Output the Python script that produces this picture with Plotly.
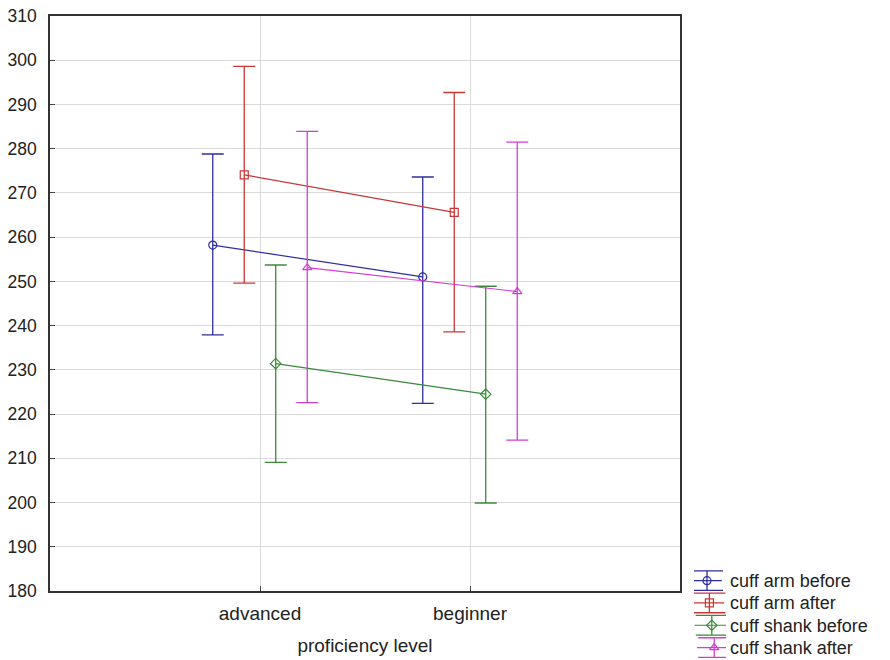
import plotly.graph_objects as go

categories = ["advanced", "beginner"]
series_names = ["cuff arm before", "cuff arm after", "cuff shank before", "cuff shank after"]

arm_before_mean = [258.2, 251.0]
arm_before_upper = [278.8, 273.6]
arm_before_lower = [237.9, 222.4]

arm_after_mean = [274.1, 265.6]
arm_after_upper = [298.6, 292.7]
arm_after_lower = [249.6, 238.6]

shank_before_mean = [231.4, 224.5]
shank_before_upper = [253.7, 248.9]
shank_before_lower = [209.1, 199.9]

shank_after_mean = [253.1, 247.7]
shank_after_upper = [283.9, 281.5]
shank_after_lower = [222.6, 214.1]

y_ticks = list(range(180, 311, 10))

colors = ["#2e2e9e", "#c83737", "#3a8a3a", "#d43cd4"]
symbols = ["circle-open", "square-open", "diamond-open", "triangle-up-open"]
means = [arm_before_mean, arm_after_mean, shank_before_mean, shank_after_mean]
uppers = [arm_before_upper, arm_after_upper, shank_before_upper, shank_after_upper]
lowers = [arm_before_lower, arm_after_lower, shank_before_lower, shank_after_lower]

FONT = "Liberation Sans, Arial, sans-serif"
TXT = "#222222"

W, H = 890, 660
PL, PR, PT, PB = 50, 680, 16, 591  # plot area in px

fig = go.Figure()
for name, mean, up, lo, color, sym in zip(series_names, means, uppers, lowers, colors, symbols):
    fig.add_trace(go.Scatter(
        x=categories, y=mean, name=name, mode="lines+markers", showlegend=False,
        line=dict(color=color, width=1.2),
        marker=dict(symbol=sym, size=8, color=color, line=dict(color=color, width=1.2)),
        error_y=dict(type="data", symmetric=False,
                     array=[u - m for u, m in zip(up, mean)],
                     arrayminus=[m - l for m, l in zip(mean, lo)],
                     color=color, thickness=1.3, width=11),
    ))

# custom legend drawn on its own small axes (error-bar style symbols)
for i, (name, color, sym) in enumerate(zip(series_names, colors, symbols)):
    fig.add_trace(go.Scatter(
        x=[-1, 1], y=[i, i], xaxis="x2", yaxis="y2", mode="lines", showlegend=False,
        line=dict(color=color, width=1.2), hoverinfo="skip",
    ))
    fig.add_trace(go.Scatter(
        x=[0], y=[i], xaxis="x2", yaxis="y2", mode="markers", showlegend=False,
        marker=dict(symbol=sym, size=8, color=color, line=dict(color=color, width=1.2)),
        error_y=dict(type="constant", value=0.44, color=color, thickness=1.3, width=16),
        hoverinfo="skip",
    ))

fig.update_layout(
    width=W, height=H,
    margin=dict(l=0, r=0, t=0, b=0, autoexpand=False),
    paper_bgcolor="white", plot_bgcolor="white",
    scattermode="group", scattergap=0.4,
    font=dict(family=FONT, size=17, color=TXT),
    showlegend=False,
    xaxis=dict(
        domain=[PL / W, PR / W], anchor="y",
        type="category", range=[-1, 2],
        showgrid=True, gridcolor="#dadada", gridwidth=1,
        showline=True, linecolor="#333333", linewidth=1.5, mirror=True,
        ticks="inside", ticklen=5, tickcolor="#444444",
        tickfont=dict(size=19, color=TXT), ticklabelstandoff=4, zeroline=False,
        ticklabeloverflow="allow",
        title=dict(text="proficiency level", font=dict(size=19, color=TXT), standoff=16),
    ),
    yaxis=dict(
        domain=[(H - PB) / H, (H - PT) / H], anchor="x",
        range=[180, 310], tickvals=y_ticks,
        showgrid=True, gridcolor="#dadada", gridwidth=1,
        showline=True, linecolor="#333333", linewidth=1.5, mirror=True,
        ticks="inside", ticklen=5, tickcolor="#444444",
        tickfont=dict(size=17.5, color=TXT), ticklabelstandoff=8, zeroline=False,
        ticklabeloverflow="allow",
    ),
    xaxis2=dict(
        domain=[694 / W, 726 / W], anchor="y2", range=[-1, 1],
        showgrid=False, showline=False, zeroline=False, showticklabels=False, ticks="",
        fixedrange=True,
    ),
    yaxis2=dict(
        domain=[1.3 / H, 90.5 / H], anchor="free", position=726 / W, side="right",
        range=[3.5, -0.5], tickvals=list(range(len(series_names))), ticktext=series_names,
        showgrid=False, showline=False, zeroline=False, ticks="",
        tickfont=dict(size=18, color=TXT), ticklabelstandoff=3, fixedrange=True,
        ticklabeloverflow="allow",
    ),
)

fig.write_html("out.html", config={"displayModeBar": False},
               post_script="document.body.style.margin='0';")
